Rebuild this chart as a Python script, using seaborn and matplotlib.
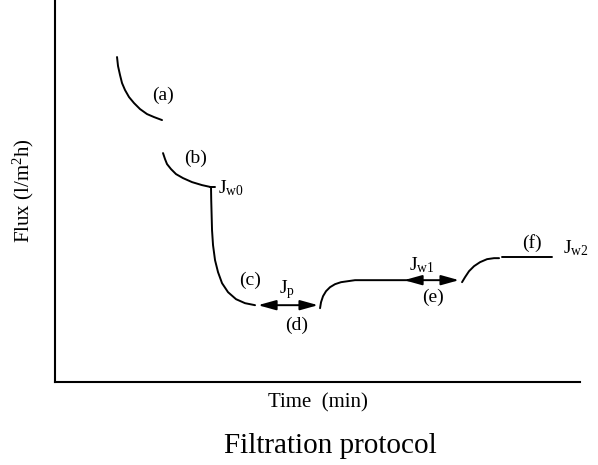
import matplotlib
matplotlib.use("Agg")
import matplotlib.pyplot as plt
import seaborn as sns
import pandas as pd

sns.set_theme(style="white")
plt.rcParams['font.family'] = ['Liberation Serif', 'DejaVu Serif']
plt.rcParams['mathtext.fontset'] = 'custom'
plt.rcParams['mathtext.rm'] = 'Liberation Serif'
plt.rcParams['mathtext.it'] = 'Liberation Serif'
plt.rcParams['text.color'] = 'black'
plt.rcParams['axes.labelcolor'] = 'black'

# Schematic flux curves (arbitrary units: time, flux)
seg_a_t = [62, 63, 65, 67, 70, 74, 79, 85, 92, 99, 107]
seg_a_f = [325, 316, 307, 299, 292, 285, 279, 273, 268, 265, 262]

seg_b_t = [108, 110, 112, 116, 121, 128, 137, 147, 156]
seg_b_f = [229, 223, 218, 213, 208, 204, 200, 197, 195]

seg_c_t = [156, 156.2, 156.6, 157, 158, 160, 163, 167, 173, 181, 190, 200]
seg_c_f = [194, 182, 167, 152, 137, 122, 110, 99, 90, 83, 79, 77]

seg_d_t = [265, 266, 268, 271, 275, 280, 286, 293, 300, 355]
seg_d_f = [74, 80, 86, 91, 95, 98, 100, 101, 102, 102]

seg_e_t = [407, 410, 414, 419, 425, 432, 439, 444]
seg_e_f = [100, 105, 111, 116, 120, 123, 124, 124]

seg_f_t = [447, 497]
seg_f_f = [125, 125]

segments = [(seg_a_t, seg_a_f), (seg_b_t, seg_b_f), (seg_c_t, seg_c_f),
            (seg_d_t, seg_d_f), (seg_e_t, seg_e_f), (seg_f_t, seg_f_f)]

# double-headed arrows: (start time, end time, flux)
arrow_jp = (203, 263, 77)
arrow_jw1 = (349, 404, 102)

# labels: (text, time, flux)
labels = [("(a)", 108, 287), ("(b)", 141, 224), (r"J$_{\mathregular{w0}}$", 176, 194),
          ("(c)", 195, 102), (r"J$_{\mathregular{p}}$", 232, 93), ("(d)", 242, 57),
          (r"J$_{\mathregular{w1}}$", 367, 117), ("(e)", 378, 85),
          ("(f)", 477, 139), (r"J$_{\mathregular{w2}}$", 521, 134)]

fig = plt.figure(figsize=(5.98, 4.65), dpi=100)
ax = fig.add_axes([0.092, 0.178, 0.878, 0.822])

for i, (t, f) in enumerate(segments):
    df = pd.DataFrame({"time": t, "flux": f})
    sns.lineplot(data=df, x="time", y="flux", sort=False, estimator=None,
                 color="black", linewidth=1.4, ax=ax)

for (t0, t1, f) in [arrow_jp, arrow_jw1]:
    ax.annotate("", xy=(t1, f), xytext=(t0, f),
                arrowprops=dict(arrowstyle="<|-|>,head_length=0.9,head_width=0.25",
                                color="black", lw=1.4, shrinkA=0, shrinkB=0))

# small tick at the end of (b)
ax.plot([155, 160], [195, 195], color="black", lw=1.4)

for txt, t, f in labels:
    ax.text(t, f, txt, fontsize=14, ha="center", va="center", color="black")

ax.set_xlim(0, 525)
ax.set_ylim(0, 382)
ax.set_xticks([])
ax.set_yticks([])
for s in ["top", "right"]:
    ax.spines[s].set_visible(False)
for s in ["left", "bottom"]:
    ax.spines[s].set_color("black")
    ax.spines[s].set_linewidth(1.5)

ax.set_xlabel("Time  (min)", fontsize=15, labelpad=8, color="black")
ax.set_ylabel(r"Flux (l/m$^{\mathregular{2}}$h)", fontsize=15, labelpad=14, color="black")
fig.text(0.553, 0.04, "Filtration protocol", fontsize=21, ha="center", va="center",
         color="black")

fig.savefig("out.png", dpi=100)
